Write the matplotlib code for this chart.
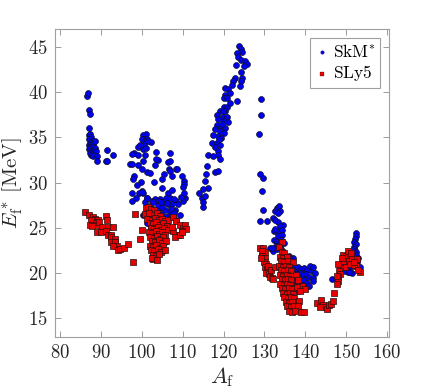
import matplotlib
matplotlib.use('Agg')
import matplotlib.pyplot as plt

plt.rcParams['mathtext.fontset'] = 'cm'
plt.rcParams['font.family'] = 'serif'
plt.rcParams['font.serif'] = ['cmr10']
plt.rcParams['axes.formatter.use_mathtext'] = True

# ---------------- data: SkM* (blue circles) ----------------
skm_A = [
    # cluster A~87
    86.7, 86.8, 87.1, 87.3, 87.2, 87.0, 87.4, 87.6, 87.2, 87.8, 87.4, 87.0, 87.6, 88.0, 87.3, 87.8, 88.2,
    87.1, 87.5, 88.0, 88.5, 87.4, 87.9, 88.4, 88.7, 87.7, 88.2, 89.0, 89.0, 91.2, 91.6, 91.6, 92.9, 88.5,
    # cluster A~100 upper
    100.4, 101.0, 100.0, 101.2, 102.3, 100.6, 101.6, 99.0, 100.2, 98.0, 99.2, 100.8, 103.6, 97.1, 97.7,
    97.7, 100.2, 99.2, 103.9, 103.6, 103.2, 106.5, 106.7, 107.0, 100.0, 101.2, 102.0, 98.2, 97.9, 105.0,
    107.3, 103.0, 108.5, 110.4, 110.4, 98.8, 104.9, 100.0, 99.4, 97.7, 100.4, 101.2, 106.5, 106.0, 106.8,
    110.6, 110.2, 99.8, 101.0, 99.6, 102.6, 104.5, 108.3, 109.6, 97.5, 98.5, 107.5, 105.5, 106.8, 106.9,
    108.7, 109.8, 110.2, 110.3,
    # cluster A~100 lower
    101.6, 102.0, 102.5, 103.0, 101.8, 102.7, 103.5, 104.2, 104.8, 105.2, 105.8, 106.3, 106.5, 107.0,
    107.4, 106.0, 105.5, 104.9, 105.3, 104.6, 106.8, 107.6, 108.2, 108.8, 103.3, 104.0, 100.8, 100.4,
    101.2, 102.2, 107.8, 108.5, 109.3, 104.4, 105.6, 103.8, 101.3, 102.8, 103.9, 105.0, 106.1, 107.2,
    108.0, 105.7, 104.6, 100.0,
    # cluster A~120 rising
    123.8, 124.3, 124.6, 123.2, 123.6, 124.3, 125.3, 125.7, 123.0, 125.0, 124.2, 124.4, 124.3, 122.8,
    122.4, 122.0, 124.0, 120.4, 121.2, 121.6, 120.4, 120.0, 123.2, 120.8, 120.0, 120.8, 119.1, 120.4,
    118.5, 119.8, 120.8, 118.7, 120.0, 121.2, 118.3, 119.5, 120.4, 117.9, 119.1, 120.0, 117.5, 118.7,
    119.5, 117.3, 118.3, 119.2, 117.9, 118.7, 116.3, 117.5, 118.7, 119.1, 116.0, 115.7, 117.9, 118.7,
    115.5, 116.3, 115.1, 114.1, 114.7, 115.5, 115.1, 115.1, 119.6, 118.9, 121.5, 119.9,
    # cluster A~130
    129.1, 129.2, 128.6, 129.0, 129.6, 129.5,
    129.7, 132.0, 132.6, 133.0, 133.5, 133.8, 133.4,
    128.8, 130.6, 132.7, 133.3, 134.6, 133.9,
    132.4, 132.9, 133.5, 134.4, 133.2, 134.2, 132.6,
    132.3, 133.1, 134.0, 134.7, 132.8, 133.7, 131.4,
    132.2, 133.0, 134.0, 134.6, 131.8,
    135.5, 136.2, 137.0, 135.9, 134.8, 136.0,
    137.0, 137.5, 138.2, 139.0, 139.8, 140.5, 141.6, 141.2, 142.0, 142.4, 137.8, 138.6, 139.4, 140.2,
    140.9, 141.8,
    137.4, 138.2, 139.0, 139.8, 140.5, 142.0, 137.8, 138.6, 139.4, 140.0, 141.0, 138.2, 139.0,
    137.5, 136.8, 136.5,
    146.5,
    # cluster A~152
    152.4, 152.5, 152.2, 151.8, 152.3, 152.0, 151.8, 152.1, 152.5, 152.4, 151.8, 152.9, 152.6, 152.8,
    153.4, 150.9, 150.9, 150.5, 151.4, 150.0, 148.9, 149.7, 150.8,
]
skm_E = [
    39.6, 39.9, 38.0, 37.6, 36.0, 35.3, 35.4, 35.0, 34.8, 34.6, 34.4, 34.2, 34.1, 34.3, 33.9, 33.8, 33.9,
    33.7, 33.5, 33.6, 33.8, 33.3, 33.2, 33.3, 33.5, 33.0, 32.9, 32.9, 32.4, 32.4, 32.4, 33.6, 33.1, 34.6,
    35.3, 35.4, 34.8, 34.8, 34.5, 34.3, 34.6, 33.9, 33.7, 33.3, 33.0, 33.0, 33.4, 32.1, 32.1,
    33.2, 32.4, 31.9, 32.5, 32.6, 31.9, 32.3, 31.5, 31.3, 31.5, 31.2, 31.1, 30.7, 30.4, 30.4,
    30.7, 30.1, 31.5, 30.2, 29.8, 29.7, 29.4, 29.1, 28.8, 28.8, 28.8, 28.3, 28.8, 28.3, 28.3,
    28.3, 28.0, 30.1, 33.8, 34.2, 28.0, 28.2, 28.0, 28.4, 28.0, 28.3, 29.2, 31.0, 33.3, 32.4,
    31.5, 30.7, 29.5, 28.8,
    26.9, 27.4, 26.5, 27.0, 26.0, 25.6, 26.2, 27.2, 26.5, 27.8, 27.0, 26.3, 27.6, 26.8,
    27.6, 25.5, 24.8, 24.0, 22.4, 23.0, 25.0, 26.2, 27.0, 27.6, 28.2, 28.0, 27.8, 26.4,
    25.5, 25.0, 28.2, 25.8, 26.4, 25.4, 23.4, 24.5, 28.3, 27.9, 27.5, 27.3, 27.7, 27.1,
    26.6, 26.2, 27.9, 28.9,
    45.1, 44.8, 44.5, 44.3, 43.9, 43.6, 43.4, 43.1, 43.0, 42.9, 42.2, 41.6, 41.2, 41.6,
    41.2, 40.8, 40.7, 40.5, 40.3, 39.9, 39.7, 39.4, 39.0, 39.4, 38.4, 38.4, 37.9, 37.9,
    37.5, 37.3, 37.3, 37.0, 36.8, 36.7, 36.4, 36.2, 36.0, 35.9, 35.7, 35.5, 35.3, 35.1,
    34.9, 34.4, 34.4, 34.2, 33.9, 33.5, 33.0, 32.9, 33.0, 32.6, 31.8, 30.9, 31.2, 31.3,
    30.2, 29.4, 29.3, 28.8, 28.3, 28.5, 27.8, 27.3, 36.5, 34.8, 38.8, 37.9,
    39.3, 37.5, 35.4, 30.9, 30.5, 29.1,
    27.0, 26.1, 26.8, 27.2, 27.4, 26.9, 26.6,
    25.7, 25.7, 25.8, 25.6, 25.3, 25.2,
    24.6, 24.6, 24.6, 24.8, 24.1, 24.2, 24.9,
    23.6, 23.4, 23.6, 23.3, 23.0, 23.1, 22.8,
    22.4, 22.6, 22.6, 22.2, 22.8,
    21.7, 21.3, 21.7, 21.0, 21.4, 21.9,
    20.6, 20.3, 20.7, 20.4, 20.5, 20.3, 20.2, 20.8, 20.6, 20.0, 19.9, 20.0, 19.8, 19.9,
    19.6, 19.4,
    19.2, 19.3, 19.1, 19.2, 18.9, 19.1, 18.6, 18.5, 18.7, 18.3, 18.6, 18.0, 18.1,
    18.4, 19.6, 20.2,
    19.3,
    24.4, 24.1, 23.7, 23.4, 23.2, 22.9, 22.6, 22.4, 22.3, 22.0, 21.5, 21.6, 21.2, 20.7,
    20.6, 20.6, 20.1, 20.1, 20.0, 20.4, 20.8, 20.2, 20.1,
]

# ---------------- data: SLy5 (red squares) ----------------
sly_A = [
    # A~90 branch
    86.1, 87.1, 88.1, 88.6, 89.4, 87.6, 91.2, 91.6, 88.8, 89.1, 89.6, 87.3, 87.8, 90.2, 91.8, 93.0,
    89.0, 90.1, 91.2, 91.8, 92.5, 92.6, 93.5, 92.6, 93.5, 93.9, 92.9, 94.3, 94.7, 95.7, 96.7, 97.9,
    98.3, 99.5, 100.0, 102.7, 101.0,
    # A~104 dense
    101.5, 102.3, 103.1,
    100.9, 101.8, 102.9, 103.7, 104.5,
    101.3, 102.4, 103.3, 104.1, 104.9, 105.7, 106.5,
    101.9, 102.8, 103.6, 104.5, 105.2, 106.1,
    102.3, 103.1, 104.0, 104.7, 105.5, 106.4,
    101.7, 102.6, 103.5, 104.2, 105.0, 105.8,
    102.1, 103.0, 103.8, 104.6, 105.3,
    102.5, 103.3, 104.1, 104.9, 105.9,
    101.9, 102.8, 103.6, 104.4, 105.1,
    102.3, 103.1, 104.0, 104.7, 105.6,
    102.7, 103.5, 104.3,
    102.5, 103.8,
    # A~109 hook
    107.6, 108.5, 109.4, 110.2, 110.7, 110.9, 109.8, 108.9, 108.1, 109.4, 109.9, 107.7, 107.3,
    # A~130 column
    128.8, 129.6, 130.2, 129.3, 129.5, 130.1, 129.8, 130.4, 130.1, 130.7, 130.5, 131.0, 131.4, 131.9,
    132.2, 130.9, 129.2, 131.5, 132.6,
    # A~135 dense column
    134.2, 133.6,
    134.2, 134.9,
    133.7, 134.6, 135.4,
    134.0, 134.9, 135.8, 137.0,
    133.6, 134.5, 135.3, 136.1,
    134.1, 134.9, 135.7, 136.5,
    133.8, 134.6, 135.4, 136.2, 137.8,
    134.2, 135.0, 135.8, 136.6, 138.3,
    133.9, 134.7, 135.5, 136.3, 139.2,
    134.3, 135.1, 135.9, 136.7, 137.9, 140.0, 138.8,
    134.6, 135.4, 136.2, 137.0,
    134.9, 135.7, 136.5, 137.3,
    135.2, 136.0, 136.8, 138.1, 138.5,
    135.6, 136.4, 137.2, 138.3,
    136.0, 136.8, 137.5, 139.0, 139.7,
    # A~145
    142.8, 143.8, 144.3, 145.0, 145.4, 145.9, 146.3, 146.7, 147.0, 143.6,
    # A~150
    149.3, 149.9, 150.9, 150.3, 149.2, 151.4, 152.6, 152.5, 153.4, 149.7, 148.5, 148.2, 148.5, 148.0,
    148.1, 147.8, 151.0, 151.8, 150.5, 151.2, 152.0, 153.0, 148.1, 147.7, 149.0,
]
sly_E = [
    26.7, 26.4, 26.2, 26.0, 25.8, 25.8, 26.3, 25.9, 25.5, 25.3, 25.6, 25.3, 25.2, 25.1, 25.1, 25.1,
    24.5, 24.5, 24.6, 24.2, 24.2, 24.0, 23.7, 23.4, 23.4, 23.0, 23.0, 22.5, 22.6, 22.8, 23.2, 21.2,
    26.5, 23.7, 24.7, 21.5, 27.2,
    27.3, 27.1, 27.0,
    26.5, 26.6, 26.4, 26.6, 26.3,
    26.0, 25.9, 26.1, 25.8, 26.0, 25.7, 25.9,
    25.5, 25.4, 25.6, 25.3, 25.5, 25.2,
    25.0, 24.9, 25.1, 24.8, 25.0, 24.7,
    24.5, 24.4, 24.6, 24.3, 24.5, 24.2,
    24.0, 23.9, 24.1, 23.8, 24.0,
    23.5, 23.4, 23.6, 23.3, 23.5,
    23.0, 22.9, 23.1, 22.8, 23.0,
    22.5, 22.4, 22.6, 22.3, 22.5,
    22.0, 21.9, 22.1,
    21.6, 21.4,
    26.2, 25.7, 25.3, 25.0, 25.3, 24.9, 24.6, 24.2, 24.0, 24.2, 24.5, 24.6, 25.1,
    22.8, 22.7, 22.3, 22.4, 21.9, 21.6, 21.2, 21.0, 20.6, 20.4, 20.0, 19.9, 19.6, 19.4,
    19.3, 20.8, 21.6, 20.3, 20.6,
    23.4, 22.9,
    22.3, 22.2,
    21.8, 21.7, 21.8,
    21.3, 21.2, 21.3, 21.2,
    20.8, 20.7, 20.8, 20.7,
    20.3, 20.2, 20.3, 20.2,
    19.8, 19.7, 19.8, 19.7, 19.8,
    19.3, 19.2, 19.3, 19.2, 19.2,
    18.8, 18.7, 18.8, 18.7, 18.6,
    18.3, 18.2, 18.3, 18.2, 18.4, 18.2, 18.0,
    17.8, 17.7, 17.8, 17.7,
    17.3, 17.2, 17.3, 17.2,
    16.8, 16.7, 16.8, 16.8, 16.9,
    16.3, 16.2, 16.3, 16.3,
    15.8, 15.7, 15.8, 15.7, 15.7,
    16.7, 17.0, 16.4, 16.2, 16.0, 16.4, 16.6, 16.9, 17.8, 16.2,
    22.0, 21.9, 22.1, 21.3, 21.3, 21.7, 21.5, 20.8, 20.1, 20.6, 20.5, 20.2, 19.9, 19.6,
    19.1, 18.8, 21.0, 20.9, 22.4, 22.2, 21.2, 20.3, 21.0, 19.7, 21.7,
]

x_ticks = [80, 90, 100, 110, 120, 130, 140, 150, 160]
y_ticks = [15, 20, 25, 30, 35, 40, 45]

fig = plt.figure(figsize=(4.3, 3.91), dpi=100)
ax = fig.add_axes([0.128, 0.138, 0.777, 0.788])

ax.scatter(skm_A, skm_E, s=18, marker='o', c='#0000f0', edgecolors='#10102a',
           linewidths=0.5, label=r'$\mathrm{SkM}^{*}$', zorder=2)
ax.scatter(sly_A, sly_E, s=13, marker='s', c='#e80000', edgecolors='#2a1010',
           linewidths=0.5, label=r'$\mathrm{SLy5}$', zorder=3)

ax.set_xlim(78.8, 160.5)
ax.set_ylim(12.9, 47.0)
ax.set_xticks(x_ticks)
ax.set_yticks(y_ticks)
ax.set_xticklabels([f'${t}$' for t in x_ticks])
ax.set_yticklabels([f'${t}$' for t in y_ticks])
ax.tick_params(direction='in', top=True, right=True, length=4, width=0.6,
               color='#8c8c8c', labelsize=13.5, labelcolor='#262626', pad=5)
for sp in ax.spines.values():
    sp.set_color('#a0a0a0')
    sp.set_linewidth(0.8)

ax.set_xlabel(r'$A_\mathrm{f}$', fontsize=16, color='#262626', labelpad=2)
ax.set_ylabel(r'$E^*_\mathrm{f}\;[\mathrm{MeV}]$', fontsize=15, color='#262626', labelpad=2)

leg = ax.legend(loc='upper right', fontsize=12.5, markerscale=0.6, fancybox=False,
                framealpha=1, edgecolor='#a0a0a0', handletextpad=0.15, borderpad=0.25,
                labelspacing=0.2, handlelength=0.9, borderaxespad=0.55)
leg.get_frame().set_linewidth(0.8)
for h in leg.legend_handles:
    h.set_linewidth(0.2)

fig.savefig('out.png', dpi=100)
